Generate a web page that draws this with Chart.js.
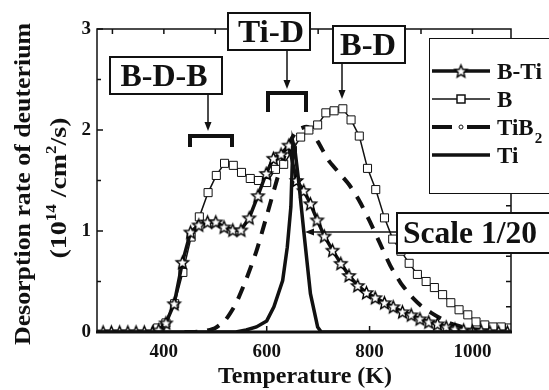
<!DOCTYPE html>
<html>
<head>
<meta charset="utf-8">
<script src="https://cdn.jsdelivr.net/npm/chart.js@4.4.1/dist/chart.umd.min.js"></script>
<style>
  html, body { margin: 0; padding: 0; background: #fff; }
</style>
</head>
<body>
<canvas id="chart" width="549" height="390"></canvas>
<script>
// desorption data (temperature in K, rate in 1e14 /cm2/s)
const bTiTemp = [282, 298, 314, 330, 346, 362, 378, 390, 404, 420, 436, 452, 468, 485, 501, 517, 534, 550, 566, 583, 599, 613, 628, 643, 658, 672, 685, 698, 712, 728, 744, 760, 777, 794, 811, 829, 846, 864, 881, 898, 915, 932, 949, 966, 983, 1000, 1017, 1034, 1051, 1068];
const bTiRate = [0, 0, 0, 0, 0, 0, 0, 0.02, 0.09, 0.28, 0.69, 0.99, 1.06, 1.09, 1.09, 1.04, 1.01, 1.01, 1.13, 1.35, 1.57, 1.72, 1.76, 1.85, 1.50, 1.40, 1.27, 1.11, 0.95, 0.81, 0.68, 0.56, 0.46, 0.39, 0.34, 0.29, 0.25, 0.20, 0.17, 0.13, 0.10, 0.08, 0.05, 0.03, 0.02, 0.01, 0.01, 0, 0, 0];

const bTemp = [388, 404, 421, 437, 453, 469, 486, 502, 518, 535, 551, 568, 584, 600, 617, 633, 650, 666, 682, 699, 715, 731, 748, 764, 780, 796, 812, 829, 845, 861, 877, 893, 910, 926, 942, 958, 974, 991, 1007, 1024, 1040, 1056, 1072];
const bRate = [0.04, 0.09, 0.28, 0.59, 0.94, 1.14, 1.38, 1.55, 1.67, 1.65, 1.58, 1.52, 1.50, 1.48, 1.61, 1.66, 1.80, 1.93, 2.00, 2.05, 2.17, 2.19, 2.21, 2.10, 1.94, 1.62, 1.41, 1.13, 0.92, 0.80, 0.68, 0.57, 0.50, 0.44, 0.37, 0.29, 0.22, 0.17, 0.10, 0.07, 0.05, 0.05, 0.04];

const tiB2Temp = [440, 460, 480, 500, 520, 540, 560, 580, 600, 615, 630, 645, 660, 680, 700, 720, 740, 760, 780, 800, 820, 840, 860, 880, 900, 920, 940, 960, 980, 1000, 1020, 1040, 1075];
const tiB2Rate = [0, 0, 0.01, 0.04, 0.12, 0.28, 0.52, 0.80, 1.15, 1.42, 1.68, 1.88, 2.00, 2.03, 1.88, 1.70, 1.58, 1.46, 1.30, 1.10, 0.88, 0.66, 0.49, 0.36, 0.26, 0.19, 0.13, 0.08, 0.05, 0.03, 0.02, 0.01, 0];

const tiTemp = [270, 540, 560, 580, 600, 614, 631, 640, 647, 651, 655, 662, 672, 685, 699, 706, 1075];
const tiRate = [0, 0, 0.02, 0.05, 0.11, 0.25, 0.51, 0.84, 1.24, 1.88, 1.80, 1.50, 1.00, 0.38, 0.05, 0, 0];

const xTicks = [400, 600, 800, 1000];
const yTicks = [0, 1, 2, 3];

const serif = '"Liberation Serif", "Times New Roman", serif';
const ink = '#111';

function pts(xs, ys) {
  return xs.map((x, i) => ({ x: x, y: ys[i] }));
}

// open five point star used as marker for B-Ti
function starImage(r) {
  const c = document.createElement('canvas');
  const s = Math.ceil(r * 2 + 4);
  c.width = s; c.height = s;
  const g = c.getContext('2d');
  g.translate(s / 2, s / 2 + r * 0.1);
  g.beginPath();
  for (let i = 0; i < 10; i++) {
    const rr = i % 2 ? r * 0.45 : r;
    const a = -Math.PI / 2 + i * Math.PI / 5;
    g.lineTo(rr * Math.cos(a), rr * Math.sin(a));
  }
  g.closePath();
  g.fillStyle = '#fff';
  g.fill();
  g.lineWidth = 1.4;
  g.lineJoin = 'miter';
  g.strokeStyle = '#000';
  g.stroke();
  return c;
}
const star = starImage(6.5);

// text squeezed/stretched to a measured width
function fitText(ctx, text, x, y, size, width, align) {
  ctx.save();
  ctx.font = 'bold ' + size + 'px ' + serif;
  const w = ctx.measureText(text).width;
  const sx = width ? width / w : 1;
  ctx.translate(x, y);
  ctx.scale(sx, 1);
  ctx.textAlign = align || 'center';
  ctx.textBaseline = 'alphabetic';
  ctx.fillStyle = ink;
  ctx.fillText(text, 0, 0);
  ctx.restore();
}

// text with superscript / subscript parts, centered at (0,0) baseline
function richText(ctx, parts, size, width) {
  const small = Math.round(size * 0.62);
  let total = 0;
  parts.forEach(p => {
    ctx.font = 'bold ' + (p.sup || p.sub ? small : size) + 'px ' + serif;
    p.w = ctx.measureText(p.t).width;
    total += p.w;
  });
  const sx = width ? width / total : 1;
  ctx.save();
  ctx.scale(sx, 1);
  let x = -total / 2;
  ctx.textAlign = 'left';
  ctx.textBaseline = 'alphabetic';
  ctx.fillStyle = ink;
  parts.forEach(p => {
    ctx.font = 'bold ' + (p.sup || p.sub ? small : size) + 'px ' + serif;
    const dy = p.sup ? -size * 0.42 : (p.sub ? size * 0.3 : 0);
    ctx.fillText(p.t, x, dy);
    x += p.w;
  });
  ctx.restore();
}

function arrow(ctx, x1, y1, x2, y2) {
  const a = Math.atan2(y2 - y1, x2 - x1);
  ctx.save();
  ctx.strokeStyle = ink;
  ctx.fillStyle = ink;
  ctx.lineWidth = 1.5;
  ctx.beginPath();
  ctx.moveTo(x1, y1);
  ctx.lineTo(x2 - 7 * Math.cos(a), y2 - 7 * Math.sin(a));
  ctx.stroke();
  ctx.beginPath();
  ctx.moveTo(x2, y2);
  ctx.lineTo(x2 - 9 * Math.cos(a) + 3.5 * Math.sin(a), y2 - 9 * Math.sin(a) - 3.5 * Math.cos(a));
  ctx.lineTo(x2 - 9 * Math.cos(a) - 3.5 * Math.sin(a), y2 - 9 * Math.sin(a) + 3.5 * Math.cos(a));
  ctx.closePath();
  ctx.fill();
  ctx.restore();
}

function labelBox(ctx, x, y, w, h, lw) {
  ctx.save();
  ctx.fillStyle = '#fff';
  ctx.fillRect(x, y, w, h);
  ctx.strokeStyle = ink;
  ctx.lineWidth = lw || 2;
  ctx.strokeRect(x, y, w, h);
  ctx.restore();
}

function bracket(ctx, x1, x2, y, h) {
  ctx.save();
  ctx.strokeStyle = ink;
  ctx.lineWidth = 4;
  ctx.beginPath();
  ctx.moveTo(x1, y + h);
  ctx.lineTo(x1, y);
  ctx.lineTo(x2, y);
  ctx.lineTo(x2, y + h);
  ctx.stroke();
  ctx.restore();
}

// frame and inward tick marks like the original plot
const framePlugin = {
  id: 'frame',
  afterDatasetsDraw(chart) {
    const ctx = chart.ctx;
    const a = chart.chartArea;
    const xs = chart.scales.x, ys = chart.scales.y;
    ctx.save();
    ctx.strokeStyle = ink;
    ctx.lineWidth = 1.5;
    ctx.beginPath();
    ctx.moveTo(a.left, a.bottom);
    ctx.lineTo(a.left, a.top);
    ctx.lineTo(a.right, a.top);
    ctx.lineTo(a.right, a.bottom);
    ctx.stroke();
    ctx.lineWidth = 3;
    ctx.beginPath();
    ctx.moveTo(a.left - 1, a.bottom);
    ctx.lineTo(a.right + 1, a.bottom);
    ctx.stroke();
    ctx.lineWidth = 1.5;
    ctx.beginPath();
    for (let v = 0; v <= 3; v += 0.5) {
      const y = ys.getPixelForValue(v);
      ctx.moveTo(a.left, y); ctx.lineTo(a.left + (v % 1 === 0 ? 6 : 4), y);
    }
    for (let v = 0.25; v < 3; v += 0.25) {
      const y = ys.getPixelForValue(v);
      ctx.moveTo(a.right, y); ctx.lineTo(a.right - 5, y);
    }
    for (let t = 300; t <= 1000; t += 100) {
      const x = xs.getPixelForValue(t);
      ctx.moveTo(x, a.top); ctx.lineTo(x, a.top + 5);
    }
    xTicks.forEach(t => {
      const x = xs.getPixelForValue(t);
      ctx.moveTo(x, a.bottom); ctx.lineTo(x, a.bottom - 6);
    });
    ctx.stroke();
    ctx.restore();
  },
  afterDraw(chart) {
    const ctx = chart.ctx;

    // axis titles
    ctx.save();
    ctx.translate(30, 184);
    ctx.rotate(-Math.PI / 2);
    richText(ctx, [{ t: 'Desorption rate of deuterium' }], 24, 322);
    ctx.restore();
    ctx.save();
    ctx.translate(66, 188);
    ctx.rotate(-Math.PI / 2);
    richText(ctx, [{ t: '(10' }, { t: '14', sup: true }, { t: ' /cm' }, { t: '2', sup: true }, { t: '/s)' }], 23, 141);
    ctx.restore();
    fitText(ctx, 'Temperature (K)', 305, 383, 23, 174);

    // legend
    labelBox(ctx, 429.5, 38.5, 140, 155, 1);
    ctx.save();
    ctx.strokeStyle = ink;
    ctx.lineWidth = 3.5;
    ctx.beginPath(); ctx.moveTo(432, 71); ctx.lineTo(490, 71); ctx.stroke();
    ctx.drawImage(star, 461 - star.width / 2, 71 - star.height / 2);
    ctx.lineWidth = 1.5;
    ctx.beginPath(); ctx.moveTo(432, 99); ctx.lineTo(490, 99); ctx.stroke();
    ctx.fillStyle = '#fff';
    ctx.fillRect(457, 95, 8, 8);
    ctx.strokeRect(457, 95, 8, 8);
    ctx.lineWidth = 4;
    ctx.beginPath(); ctx.moveTo(432, 127); ctx.lineTo(452, 127); ctx.moveTo(467, 127); ctx.lineTo(490, 127); ctx.stroke();
    ctx.lineWidth = 1;
    ctx.beginPath(); ctx.arc(461, 127, 2, 0, Math.PI * 2); ctx.stroke();
    ctx.lineWidth = 3.5;
    ctx.beginPath(); ctx.moveTo(432, 155); ctx.lineTo(490, 155); ctx.stroke();
    ctx.restore();
    fitText(ctx, 'B-Ti', 497, 79, 23, 45, 'left');
    fitText(ctx, 'B', 497, 107, 23, null, 'left');
    ctx.save();
    ctx.translate(497, 135);
    ctx.font = 'bold 23px ' + serif;
    ctx.fillStyle = ink;
    ctx.textAlign = 'left';
    ctx.fillText('TiB', 0, 0);
    const wTiB = ctx.measureText('TiB').width;
    ctx.font = 'bold 15px ' + serif;
    ctx.fillText('2', wTiB + 1, 8);
    ctx.restore();
    fitText(ctx, 'Ti', 497, 163, 23, null, 'left');

    // peak assignments
    labelBox(ctx, 110, 57, 112, 37);
    fitText(ctx, 'B-D-B', 164, 86, 31, 87);
    arrow(ctx, 208, 94, 208, 131);
    bracket(ctx, 190, 232, 136, 11);

    labelBox(ctx, 228, 13, 82, 37);
    fitText(ctx, 'Ti-D', 271, 42, 31, 66);
    arrow(ctx, 287, 50, 287, 89);
    bracket(ctx, 268, 306, 93, 19);

    labelBox(ctx, 333, 26, 72, 37);
    fitText(ctx, 'B-D', 368, 55, 31, 56);
    arrow(ctx, 342, 63, 342, 99);

    labelBox(ctx, 397, 213, 170, 40);
    fitText(ctx, 'Scale 1/20', 470, 243, 31, 134);
    arrow(ctx, 397, 232, 305, 232);
  }
};

const tickFont = { family: serif, weight: 'bold', size: 19 };

new Chart(document.getElementById('chart'), {
  type: 'line',
  data: {
    datasets: [
      {
        label: 'Ti',
        data: pts(tiTemp, tiRate),
        borderColor: ink,
        borderWidth: 3.5,
        pointRadius: 0,
        tension: 0
      },
      {
        label: 'B-Ti',
        data: pts(bTiTemp, bTiRate),
        borderColor: ink,
        borderWidth: 3.5,
        pointStyle: star,
        pointRadius: 6,
        tension: 0
      },
      {
        label: 'B',
        data: pts(bTemp, bRate),
        borderColor: ink,
        borderWidth: 1.5,
        pointStyle: 'rect',
        pointRadius: 5.7,
        pointBorderWidth: 1,
        pointBorderColor: ink,
        pointBackgroundColor: '#fff',
        tension: 0
      },
      {
        label: 'TiB\u2082',
        data: pts(tiB2Temp, tiB2Rate),
        borderColor: ink,
        borderWidth: 4,
        borderDash: [13, 10],
        pointRadius: 0,
        tension: 0.2
      }
    ]
  },
  options: {
    responsive: false,
    animation: false,
    events: [],
    layout: { padding: { top: 29, right: 38, left: 0, bottom: 0 } },
    plugins: {
      legend: { display: false },
      tooltip: { enabled: false }
    },
    scales: {
      x: {
        type: 'linear',
        min: 270,
        max: 1075,
        grid: { display: false, drawTicks: false },
        border: { display: false },
        ticks: { padding: 9, font: tickFont, color: ink, callback: v => String(v) },
        afterBuildTicks: s => { s.ticks = xTicks.map(v => ({ value: v })); },
        afterFit: s => { s.height = 58; }
      },
      y: {
        min: 0,
        max: 3,
        grid: { display: false, drawTicks: false },
        border: { display: false },
        ticks: { padding: 6, font: tickFont, color: ink, callback: v => String(v) },
        afterBuildTicks: s => { s.ticks = yTicks.map(v => ({ value: v })); },
        afterFit: s => { s.width = 97; }
      }
    }
  },
  plugins: [framePlugin]
});
</script>
</body>
</html>
